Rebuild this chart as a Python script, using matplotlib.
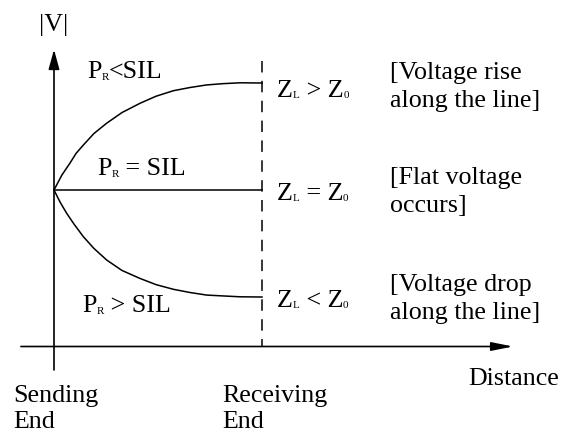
import matplotlib
matplotlib.use('Agg')
import matplotlib.pyplot as plt
from matplotlib.transforms import offset_copy

plt.rcParams['font.family'] = 'Liberation Serif'

# distance along the line: 0 = sending end, 1 = receiving end
dist_rise = [0.0, 0.038, 0.077, 0.106, 0.141, 0.192, 0.253, 0.327, 0.413,
             0.490, 0.574, 0.654, 0.734, 0.813, 0.894, 1.0]
v_rise = [1.0, 1.070, 1.126, 1.171, 1.210, 1.264, 1.312, 1.362, 1.405,
          1.438, 1.464, 1.479, 1.491, 1.497, 1.501, 1.50]
dist_flat = [0.0, 1.0]
v_flat = [1.0, 1.0]
dist_drop = [0.0, 0.029, 0.061, 0.096, 0.141, 0.192, 0.253, 0.327, 0.413,
             0.490, 0.574, 0.654, 0.734, 0.813, 0.894, 1.0]
v_drop = [1.0, 0.944, 0.891, 0.841, 0.782, 0.727, 0.673, 0.624, 0.587,
          0.558, 0.536, 0.521, 0.509, 0.505, 0.501, 0.50]

# (main, subscript, rest) for each loading case
case_labels = [("P", "R", "<SIL"), ("P", "R", " = SIL"), ("P", "R", " > SIL")]
imp_labels = [("Z", "L", " > Z", "0"), ("Z", "L", " = Z", "0"), ("Z", "L", " < Z", "0")]
notes = [["[Voltage rise", "along the line]"],
         ["[Flat voltage", "occurs]"],
         ["[Voltage drop", "along the line]"]]
end_labels = [["Sending", "End"], ["Receiving", "End"]]

FS = 18.7
SUB = 8

fig = plt.figure(figsize=(5.61, 4.33), dpi=100)
ax = fig.add_axes([0, 0, 1, 1])
ax.set_xlim(-0.2596, 2.4375)
ax.set_ylim(-0.1355, 1.8879)
ax.axis('off')
renderer = fig.canvas.get_renderer()


def rich_text(x, y, pieces):
    # draw text pieces one after another on a shared baseline
    dx = 0.0
    for s, size, dy in pieces:
        tr = offset_copy(ax.transData, fig=fig, x=dx, y=dy, units='points')
        t = ax.text(x, y, s, fontsize=size, transform=tr, va='baseline', ha='left')
        dx += t.get_window_extent(renderer).width * 72 / fig.dpi


# axes with arrow heads
ax.annotate('', xy=(2.207, 0.2687), xytext=(-0.159, 0.2687),
            arrowprops=dict(arrowstyle='-|>,head_length=1.3,head_width=0.26',
                            mutation_scale=10, lw=1.2, color='black',
                            shrinkA=0, shrinkB=0))
ax.annotate('', xy=(0, 1.6565), xytext=(0, 0.159),
            arrowprops=dict(arrowstyle='-|>,head_length=1.2,head_width=0.33',
                            mutation_scale=10, lw=1.2, color='black',
                            shrinkA=0, shrinkB=0))

# receiving end marker
ax.plot([1, 1], [1.603, 0.2687], color='black', lw=1.1, ls=(0, (7.5, 5.5)))

# voltage profiles
line_kw = dict(color='black', lw=1.1, solid_joinstyle='round')
ax.plot(dist_rise, v_rise, **line_kw)
ax.plot(dist_flat, v_flat, **line_kw)
ax.plot(dist_drop, v_drop, **line_kw)

ax.text(0, 1.743, "|V|", fontsize=FS, ha='center', va='baseline')

case_pos = [(0.159, 1.523), (0.207, 1.070), (0.135, 0.430)]
for (m, s, r), (x, y) in zip(case_labels, case_pos):
    rich_text(x, y, [(m, FS, 0), (s, SUB, -1.5), (r, FS, 0)])

imp_y = [1.435, 0.953, 0.453]
for (a, s1, b, s2), y in zip(imp_labels, imp_y):
    rich_text(1.072, y, [(a, FS, 0), (s1, SUB, -0.8), (b, FS, 0), (s2, SUB, -0.8)])

note_y = [1.519, 1.028, 0.528]
for lines, y in zip(notes, note_y):
    for i, line in enumerate(lines):
        ax.text(1.615, y - i * 0.131, line, fontsize=FS, va='baseline')

ax.text(1.990, 0.089, "Distance", fontsize=FS, va='baseline')

for lines, x in zip(end_labels, [-0.197, 0.808]):
    for i, line in enumerate(lines):
        ax.text(x, 0.009 - i * 0.121, line, fontsize=FS, va='baseline')

fig.savefig('out.png', dpi=100)
